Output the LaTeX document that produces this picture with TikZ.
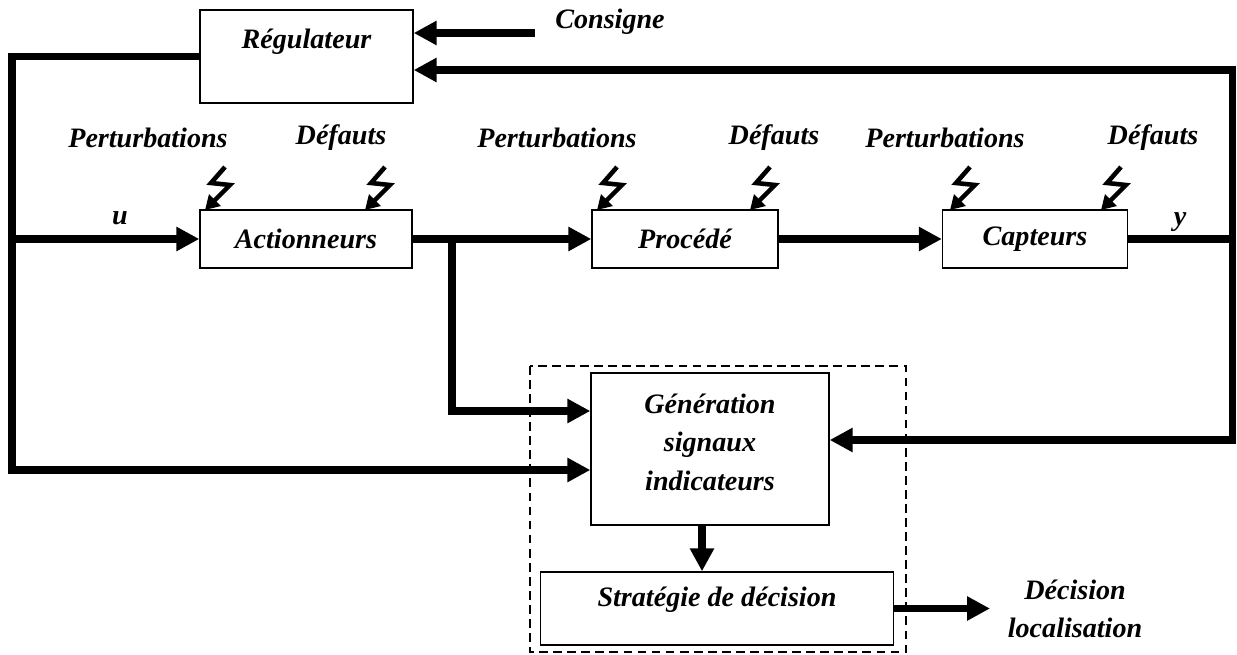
\documentclass[tikz,border=0pt]{standalone}
\usepackage{fontspec}
\setmainfont{Liberation Serif}
\usetikzlibrary{arrows.meta}
\tikzset{
  texte/.style={font=\fontsize{16}{19}\selectfont\bfseries\itshape},
  bloc/.style={draw, line width=0.8pt, texte},
  trait/.style={line width=4pt},
  fleche/.style={line width=4pt, -{Triangle[length=13pt,width=13pt]}},
  foudre/.style={line width=2.6pt, {Triangle[length=8pt,width=9pt]}-}
}
% eclair pointe sur un bloc (#1 = pointe)
\newcommand{\foudre}[1]{\draw[foudre] #1 -- ++(25,-25) -- ++(-19,-2) -- ++(14,-16);}

\begin{document}
\begin{tikzpicture}[x=0.02cm, y=-0.02cm]
\useasboundingbox (0,0) rectangle (1237,655);
% blocs
\node[bloc, minimum width=4.26cm, minimum height=1.86cm] (reg) at (306.5,56.5) {\raisebox{0.3cm}[\height][\depth]{Régulateur}};
\node[bloc, minimum width=4.24cm, minimum height=1.16cm] (act) at (306,239) {Actionneurs};
\node[bloc, minimum width=3.72cm, minimum height=1.16cm] (proc) at (685,239) {Procédé};
\node[bloc, minimum width=3.7cm, minimum height=1.16cm] (capt) at (1035,239) {Capteurs};
\node[bloc, minimum width=4.76cm, minimum height=3.04cm] (gen) at (710,449) {\raisebox{0.08cm}[\height][\depth]{\begin{tabular}{@{}c@{}}Génération\\[3pt] signaux\\[3pt] indicateurs\end{tabular}}};
\node[bloc, minimum width=7.06cm, minimum height=1.46cm] (strat) at (717,608.5) {\raisebox{0.17cm}[\height][\depth]{Stratégie de décision}};
\draw[line width=0.8pt, dash pattern=on 5pt off 3pt] (530,366) rectangle (906,652);
% textes
\node[texte] (cons) at (610,22) {Consigne};
\node[texte] (u) at (120,218) {u};
\node[texte] (y) at (1180,222) {y};
\node[texte] (pert1) at (148,138) {Perturbations};
\node[texte] (def1) at (341,138) {Défauts};
\node[texte] (pert2) at (557,138) {Perturbations};
\node[texte] (def2) at (774,138) {Défauts};
\node[texte] (pert3) at (945,138) {Perturbations};
\node[texte] (def3) at (1153,138) {Défauts};
\node[texte, align=center, font=\fontsize{16}{21.5}\selectfont\bfseries\itshape] (dec) at (1075,609) {Décision\\localisation};
% eclairs
\foudre{(205,210)}
\foudre{(365,210)}
\foudre{(597,210)}
\foudre{(750,210)}
\foudre{(950,210)}
\foudre{(1101,210)}
% liaisons
\coordinate (consigne) at (535,33);
\coordinate (bg) at (12,470);
\coordinate (br) at (452,411);
\coordinate (hd) at (1232,70);
\coordinate (bd) at (1232,440);
\coordinate (sortie) at (990,608);
\draw[fleche] (consigne) -- (reg.east |- consigne);
\draw[fleche] (reg.west) -| (bg) -- (bg -| gen.west);
\draw[fleche] (act.west -| bg) -- (act.west);
\draw[fleche] (act.east) -- (proc.west);
\draw[fleche] (act.east -| br) |- (gen.west |- br);
\draw[fleche] (proc.east) -- (capt.west);
\draw[trait] (capt.east) -- (capt.east -| hd);
\draw[fleche] (capt.east -| hd) |- (reg.east |- hd);
\draw[fleche] (capt.east -| hd) |- (gen.east |- bd);
\draw[fleche] ([xshift=-0.16cm]gen.south) -- ([xshift=-0.16cm]gen.south |- strat.north);
\draw[fleche] (strat.east) -- (strat.east -| sortie);
\end{tikzpicture}
\end{document}
